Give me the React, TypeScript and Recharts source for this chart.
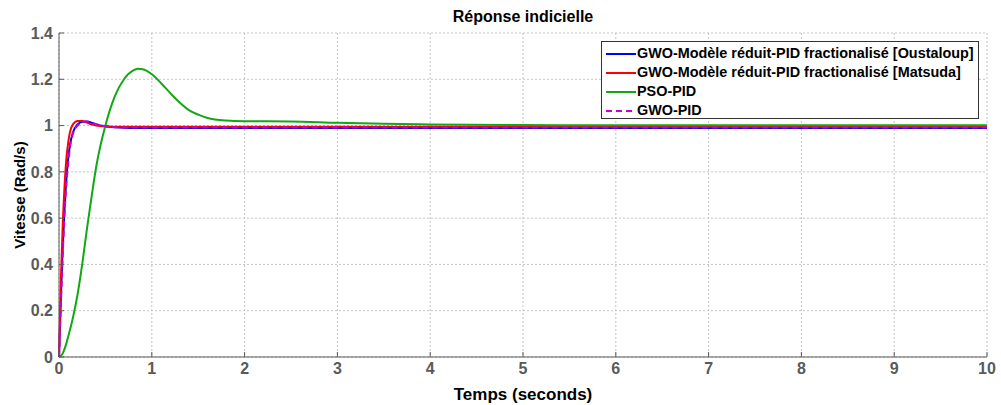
import React from "react"
import {
  CartesianGrid,
  Line,
  LineChart,
  XAxis,
  YAxis,
} from "recharts"

// time axis (seconds), denser at the start where the responses rise
const time = [
  0, 0.02, 0.04, 0.06, 0.08, 0.1, 0.12, 0.15, 0.2, 0.25, 0.3, 0.35, 0.4, 0.5,
  0.6, 0.7, 0.8, 0.85, 0.9, 1.0, 1.1, 1.2, 1.3, 1.4, 1.5, 1.6, 1.8, 2.0, 2.5,
  3.0, 3.5, 4, 5, 6, 7, 8, 9, 10,
]

const oustaloup = [
  0, 0.25, 0.47, 0.64, 0.77, 0.86, 0.92, 0.97, 1.005, 1.017, 1.018, 1.012,
  1.005, 0.997, 0.993, 0.991, 0.99, 0.99, 0.99, 0.99, 0.99, 0.99, 0.99, 0.99,
  0.99, 0.99, 0.99, 0.99, 0.99, 0.99, 0.99, 0.99, 0.99, 0.99, 0.99, 0.99, 0.99,
  0.99,
]

const matsuda = [
  0, 0.33, 0.57, 0.74, 0.86, 0.93, 0.975, 1.005, 1.02, 1.02, 1.013, 1.005, 1.0,
  0.996, 0.995, 0.995, 0.995, 0.995, 0.995, 0.995, 0.995, 0.995, 0.995, 0.995,
  0.995, 0.995, 0.995, 0.995, 0.995, 0.995, 0.995, 0.995, 0.995, 0.995, 0.995,
  0.995, 0.995, 0.995,
]

const psoPid = [
  0, 0.005, 0.015, 0.035, 0.06, 0.09, 0.12, 0.17, 0.27, 0.4, 0.55, 0.69, 0.82,
  1.0, 1.125, 1.2, 1.238, 1.245, 1.243, 1.222, 1.183, 1.14, 1.1, 1.067, 1.047,
  1.033, 1.022, 1.019, 1.018, 1.012, 1.008, 1.005, 1.002, 1.001, 1.001, 1.001,
  1.001, 1.001,
]

const gwoPid = [
  0, 0.22, 0.44, 0.62, 0.75, 0.84, 0.91, 0.965, 1.0, 1.015, 1.018, 1.013,
  1.006, 0.997, 0.993, 0.992, 0.992, 0.992, 0.992, 0.992, 0.992, 0.992, 0.992,
  0.992, 0.992, 0.992, 0.992, 0.992, 0.992, 0.992, 0.992, 0.992, 0.992, 0.992,
  0.992, 0.992, 0.992, 0.992,
]

const xTicks = [0, 1, 2, 3, 4, 5, 6, 7, 8, 9, 10]
const yTicks = [0, 0.2, 0.4, 0.6, 0.8, 1, 1.2, 1.4]

const series = [
  { key: "oustaloup", name: "GWO-Modèle réduit-PID fractionalisé [Oustaloup]", color: "#0000ff", dash: undefined },
  { key: "matsuda", name: "GWO-Modèle réduit-PID fractionalisé [Matsuda]", color: "#ff0000", dash: undefined },
  { key: "psoPid", name: "PSO-PID", color: "#12a812", dash: undefined },
  { key: "gwoPid", name: "GWO-PID", color: "#c800c8", dash: "6 4" },
]

const data = time.map((t, i) => ({
  t,
  oustaloup: oustaloup[i],
  matsuda: matsuda[i],
  psoPid: psoPid[i],
  gwoPid: gwoPid[i],
}))

const FONT = "Arial, 'Liberation Sans', Helvetica, sans-serif"
const AXIS = "#5a5a5a"
const noLabel = () => <g />

function LegendBox() {
  return (
    <div
      style={{
        position: "absolute",
        top: 41,
        left: 601,
        width: 378,
        height: 78,
        boxSizing: "border-box",
        border: "1px solid #333",
        background: "#fff",
        padding: "2px 0 0 4px",
        fontFamily: FONT,
        fontWeight: "bold",
        fontSize: 14.4,
        color: "#000",
        lineHeight: "19px",
      }}
    >
      {series.map((s) => (
        <div key={s.key} style={{ display: "flex", alignItems: "center" }}>
          <svg width={30} height={10}>
            <line
              x1={0}
              y1={5}
              x2={30}
              y2={5}
              stroke={s.color}
              strokeWidth={2}
              strokeDasharray={s.dash}
            />
          </svg>
          <span style={{ marginLeft: 1 }}>{s.name}</span>
        </div>
      ))}
    </div>
  )
}

export default function App() {
  return (
    <div style={{ position: "absolute", left: 0, top: 0, width: 1001, height: 405, background: "#fff" }}>
      <LineChart
        width={1001}
        height={405}
        data={data}
        margin={{ top: 33, right: 14, left: 0, bottom: 0 }}
      >
        <CartesianGrid stroke="#c4c4c4" strokeDasharray="2 2" />
        <XAxis
          dataKey="t"
          type="number"
          domain={[0, 10]}
          ticks={xTicks}
          height={48}
          stroke={AXIS}
          tickSize={-5}
          tickMargin={0}
          tick={{ fill: AXIS, fontSize: 16, fontWeight: "bold", fontFamily: FONT, dy: 11 }}
          label={{
            value: "Temps (seconds)",
            position: "insideBottom",
            offset: 5,
            style: { fill: "#000", fontSize: 17, fontWeight: "bold", fontFamily: FONT },
          }}
        />
        <XAxis
          xAxisId="top"
          orientation="top"
          dataKey="t"
          type="number"
          domain={[0, 10]}
          ticks={xTicks}
          height={0}
          tickSize={-5}
          tick={noLabel}
          stroke={AXIS}
        />
        <YAxis
          type="number"
          domain={[0, 1.4]}
          ticks={yTicks}
          width={59}
          stroke={AXIS}
          tickSize={-5}
          tickMargin={0}
          tick={{ fill: AXIS, fontSize: 16, fontWeight: "bold", fontFamily: FONT, dx: -11 }}
          label={{
            value: "Vitesse (Rad/s)",
            angle: -90,
            position: "insideLeft",
            offset: 20,
            style: { fill: "#000", fontSize: 15, fontWeight: "bold", fontFamily: FONT, textAnchor: "middle" },
          }}
        />
        <YAxis
          yAxisId="right"
          orientation="right"
          domain={[0, 1.4]}
          ticks={yTicks}
          width={0}
          tickSize={-5}
          tick={noLabel}
          stroke={AXIS}
        />
        {series.map((s) => (
          <Line
            key={s.key}
            dataKey={s.key}
            name={s.name}
            type="monotone"
            stroke={s.color}
            strokeWidth={2}
            strokeDasharray={s.dash}
            dot={false}
            activeDot={false}
            isAnimationActive={false}
          />
        ))}
      </LineChart>
      <div
        style={{
          position: "absolute",
          top: 8,
          left: 59,
          width: 928,
          textAlign: "center",
          fontFamily: FONT,
          fontWeight: "bold",
          fontSize: 16,
          color: "#000",
        }}
      >
        Réponse indicielle
      </div>
      <LegendBox />
    </div>
  )
}
